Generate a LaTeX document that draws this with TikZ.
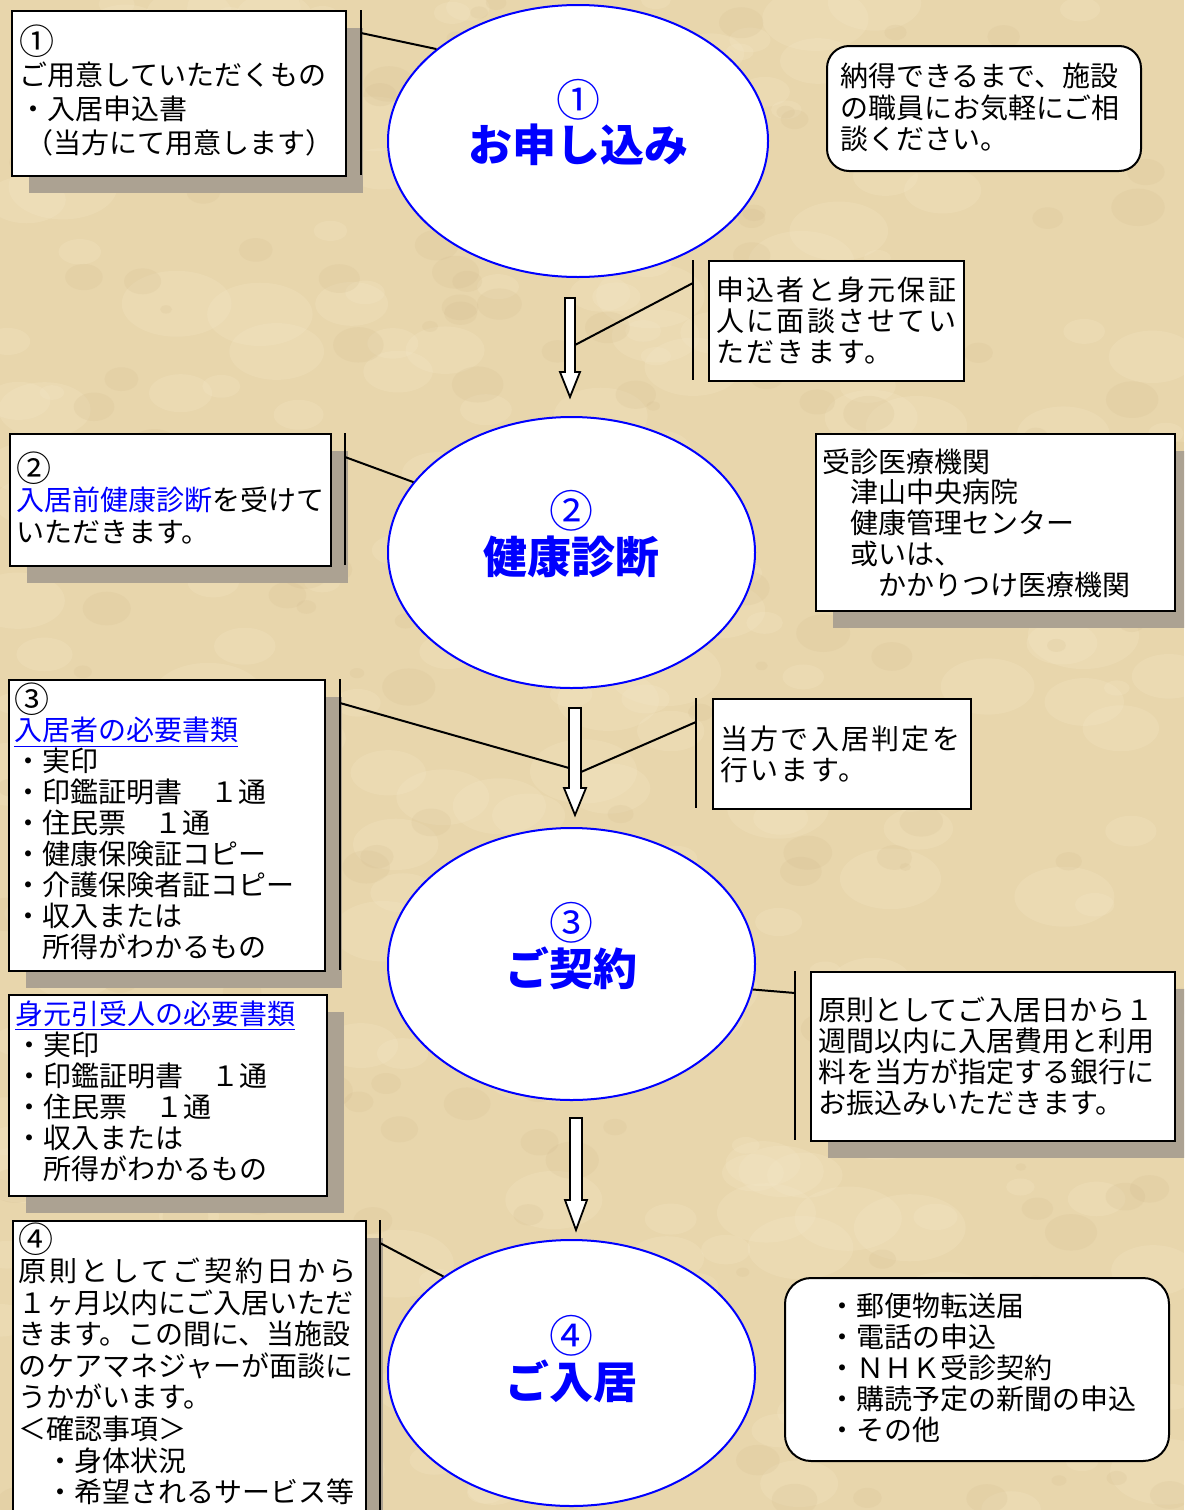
\documentclass[tikz,border=0pt]{standalone}
\usepackage{fontspec}
\usepackage{graphicx}
\setmainfont{Noto Sans CJK JP}
\newfontfamily\jpA[LetterSpace=8]{Noto Sans CJK JP}
\newfontfamily\jpB[LetterSpace=11]{Noto Sans CJK JP}
\usetikzlibrary{shadows,shapes.geometric}
\definecolor{bg}{RGB}{232,214,172}
\definecolor{bgl}{RGB}{246,233,203}
\definecolor{bgd}{RGB}{206,182,136}
\definecolor{shd}{RGB}{172,162,146}
\definecolor{ttl}{RGB}{0,0,255}
\newcommand\cnum[1]{\raisebox{-1.5pt}{\smash{\scalebox{1.25}{#1}}}\vphantom{用}}
\tikzset{
 box/.style={draw=black, line width=1pt, fill=white, anchor=north west, inner sep=0pt},
 shbox/.style={box, drop shadow={shadow xshift=8.5pt, shadow yshift=-8.5pt, fill=shd, opacity=1}},
 rbox/.style={box, rounded corners=11pt},
 oval/.style={ellipse, draw=ttl, line width=1pt, fill=white, inner sep=0pt},
 txt/.style={anchor=north west, inner sep=0pt, align=left, font=\fontsize{14pt}{15.5pt}\selectfont},
 bar/.style={line width=1.2pt},
 conn/.style={line width=1pt},
 blk/.style={draw=black, line width=0.9pt, fill=white, line join=miter},
 num/.style={text=ttl, font=\fontsize{22pt}{24pt}\selectfont, inner sep=0pt},
 ttlt/.style={text=ttl, font=\fontsize{22pt}{24pt}\selectfont\bfseries, inner sep=0pt},
}
\begin{document}
\begin{tikzpicture}[x=0.5pt,y=-0.5pt]
\useasboundingbox (0,0) rectangle (1184,1510);
\clip (0,0) rectangle (1184,1510);
\fill[bg] (0,0) rectangle (1184,1510);
% parchment texture
\pgfmathsetseed{11}
\foreach \i in {1,...,260}{
  \pgfmathsetmacro\xx{rnd*1184}
  \pgfmathsetmacro\yy{rnd*1510}
  \pgfmathsetmacro\rr{12+rnd*45}
  \fill[bgl, opacity=0.22] (\xx,\yy) ellipse ({\rr} and {0.6*\rr});
}
\foreach \i in {1,...,220}{
  \pgfmathsetmacro\xx{rnd*1184}
  \pgfmathsetmacro\yy{rnd*1510}
  \pgfmathsetmacro\rr{5+rnd*22}
  \fill[bgd, opacity=0.15] (\xx,\yy) ellipse ({\rr} and {0.7*\rr});
}

% ellipses
\node[oval, minimum width=190pt, minimum height=136pt] (e1) at (578,141) {};
\node[oval, minimum width=183.5pt, minimum height=135.5pt] (e2) at (571.5,552.5) {};
\node[oval, minimum width=183.5pt, minimum height=136pt] (e3) at (571.5,964) {};
\node[oval, minimum width=183.5pt, minimum height=133pt] (e4) at (571.5,1373) {};
\node[num] (n1) at (578,100) {①};
\node[ttlt] (t1) at (578,145) {お申し込み};
\node[num] (n2) at (571,511) {②};
\node[ttlt] (t2) at (571,557) {健康診断};
\node[num] (n3) at (571,923) {③};
\node[ttlt] (t3) at (571,968) {ご契約};
\node[num] (n4) at (571,1336) {④};
\node[ttlt] (t4) at (571,1381) {ご入居};

% block arrows
\draw[blk] (565,298) -- (575,298) -- (575,372) -- (580,372) -- (570,397) -- (560,372) -- (565,372) -- cycle;
\draw[blk] (569,708) -- (581,708) -- (581,788) -- (586,788) -- (575,815) -- (564,788) -- (569,788) -- cycle;
\draw[blk] (570,1118) -- (582,1118) -- (582,1200) -- (587,1200) -- (576,1230) -- (565,1200) -- (570,1200) -- cycle;
\coordinate (a1r) at (575,345);
\coordinate (a2l) at (569,768);
\coordinate (a2r) at (581,772);

% box 1
\node[shbox, minimum width=167pt, minimum height=82.5pt] (b1) at (11,10) {};
\node[txt, font=\fontsize{14pt}{17pt}\selectfont] (b1t) at (19,30) {\cnum{①}\\ご用意していただくもの\\・入居申込書\\\hspace*{3pt}（当方にて用意します）};
\coordinate (v1t) at (361,10); \coordinate (v1b) at (361,175);
\draw[bar] (v1t) -- (v1b);
\coordinate (k1) at (361,33);
\draw[conn] (k1) -- (e1.147);

% top right rounded
\node[rbox, minimum width=157pt, minimum height=62.5pt] (tr) at (826,45) {};
\node[txt, font=\fontsize{14pt}{15.75pt}\selectfont] (trt) at (840,63) {納得できるまで、施設\\の職員にお気軽にご相\\談ください。};

% interview box
\node[box, minimum width=127.5pt, minimum height=60pt] (mk) at (708,260) {};
\node[txt] (mkt) at (716,276) {\jpA 申込者と身元保証\\\jpA 人に面談させてい\\\jpA ただきます。};
\coordinate (v2t) at (693,260); \coordinate (v2b) at (693,380);
\draw[bar] (v2t) -- (v2b);
\coordinate (k2) at (693,283);
\draw[conn] (k2) -- (a1r);

% box 2
\node[shbox, minimum width=160.5pt, minimum height=66pt] (b2) at (9,433) {};
\node[txt, font=\fontsize{14pt}{16pt}\selectfont] (b2t) at (16,457) {\cnum{②}\\\textcolor{ttl}{入居前健康診断}を受けて\\いただきます。};
\coordinate (v3t) at (345,433); \coordinate (v3b) at (345,565);
\draw[bar] (v3t) -- (v3b);
\coordinate (k3) at (345,457);
\draw[conn] (k3) -- (e2.156);

% hospital box
\node[shbox, minimum width=179.5pt, minimum height=88.5pt] (js) at (815,433) {};
\node[txt, font=\fontsize{14pt}{15.4pt}\selectfont] (jst) at (822,448) {受診医療機関\\　津山中央病院\\　健康管理センター\\　或いは、\\　　かかりつけ医療機関};

% box 3
\node[shbox, minimum width=158pt, minimum height=145.5pt] (b3) at (8,679) {};
\node[txt] (b3t) at (14,688) {\cnum{③}\\\textcolor{ttl}{\underline{入居者の必要書類}}\\・実印\\・印鑑証明書　１通\\・住民票　１通\\・健康保険証コピー\\・介護保険者証コピー\\・収入または\\　所得がわかるもの};
\coordinate (v4t) at (340,679); \coordinate (v4b) at (340,970);
\draw[bar] (v4t) -- (v4b);
\coordinate (k4) at (340,703);
\draw[conn] (k4) -- (a2l);

% judgement box
\node[box, minimum width=129pt, minimum height=55pt] (th) at (712,698) {};
\node[txt] (tht) at (720,725) {\jpA 当方で入居判定を\\\jpA 行います。};
\coordinate (v5t) at (696,698); \coordinate (v5b) at (696,808);
\draw[bar] (v5t) -- (v5b);
\coordinate (k5) at (696,722);
\draw[conn] (k5) -- (a2r);

% guarantor box
\node[shbox, minimum width=159pt, minimum height=100.5pt] (mm) at (8,994) {};
\node[txt] (mmt) at (15,1000) {\textcolor{ttl}{\underline{身元引受人の必要書類}}\\・実印\\・印鑑証明書　１通\\・住民票　１通\\・収入または\\　所得がわかるもの};

% payment box
\node[shbox, minimum width=182pt, minimum height=84.5pt] (gs) at (810,971) {};
\node[txt] (gst) at (818,996) {原則としてご入居日から１\\週間以内に入居費用と利用\\料を当方が指定する銀行に\\お振込みいただきます。};
\coordinate (v6t) at (795,971); \coordinate (v6b) at (795,1140);
\draw[bar] (v6t) -- (v6b);
\coordinate (k6) at (795,993);
\draw[conn] (k6) -- (e3.-8);

% box 4
\node[shbox, minimum width=176.5pt, minimum height=160pt] (b4) at (12,1220) {};
\node[txt, font=\fontsize{14pt}{15.8pt}\selectfont] (b4t) at (18,1228) {\cnum{④}\\{\jpB 原則としてご契約日から}\\１ヶ月以内にご入居いただ\\きます。この間に、当施設\\のケアマネジャーが面談に\\うかがいます。\\＜確認事項＞\\　・身体状況\\　・希望されるサービス等};
\coordinate (v7t) at (380,1220); \coordinate (v7b) at (380,1510);
\draw[bar] (v7t) -- (v7b);
\coordinate (k7) at (380,1243);
\draw[conn] (k7) -- (e4.143);

% bottom right rounded
\node[rbox, rounded corners=13pt, minimum width=192pt, minimum height=91.5pt] (br) at (784,1277) {};
\node[txt] (brt) at (828,1293) {・郵便物転送届\\・電話の申込\\・ＮＨＫ受診契約\\・購読予定の新聞の申込\\・その他};
\end{tikzpicture}
\end{document}
